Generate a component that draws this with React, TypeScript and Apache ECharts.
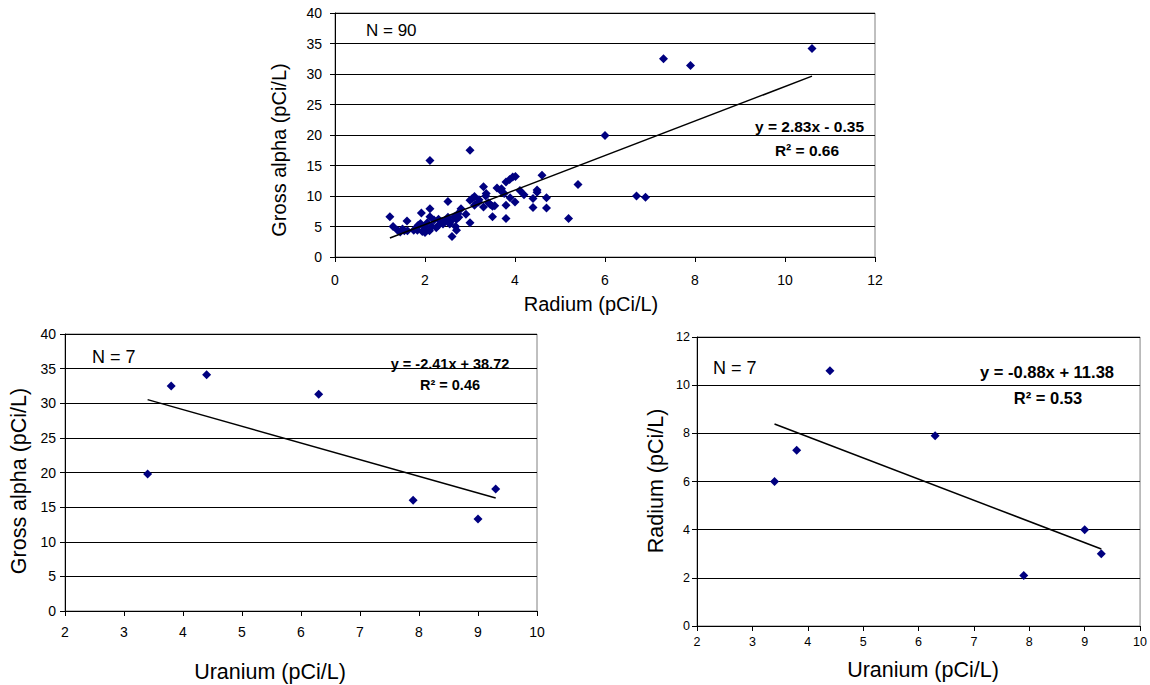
import React, { useEffect, useRef } from "react";
import * as echarts from "echarts";

// ---- Top chart: Radium vs Gross alpha (N = 90) ----
const radium = [
  1.22, 1.29, 1.39, 1.6, 1.54, 1.61, 1.82, 1.83, 1.9, 1.94,
  1.98, 1.92, 2.11, 2.11, 2.11, 3.0, 2.2, 2.3, 2.38, 2.51,
  2.51, 2.57, 2.6, 2.7, 2.7, 2.73, 2.8, 2.91, 3.0, 3.0,
  3.1, 3.1, 3.19, 3.3, 3.36, 3.3, 3.41, 3.5, 3.5, 3.6,
  3.68, 3.76, 3.8, 3.88, 3.95, 4.01, 3.8, 3.8, 3.89, 4.0,
  4.11, 4.2, 4.4, 4.4, 4.49, 4.49, 4.6, 4.7, 4.7, 5.19,
  5.4, 6.0, 6.7, 6.9, 7.3, 7.9, 10.6, 1.45, 1.5, 1.75,
  1.85, 2.0, 2.0, 2.05, 2.15, 2.25, 2.3, 2.4, 2.45, 2.55,
  2.65, 2.68, 2.75, 3.05, 3.2, 3.35, 3.45, 3.55, 3.7, 2.1,
];
const grossAlphaTop = [
  6.6, 5.0, 4.4, 5.9, 4.3, 4.3, 4.9, 4.4, 5.5, 4.2,
  4.5, 7.2, 7.9, 6.6, 15.8, 17.5, 6.05, 5.2, 5.8, 9.1,
  6.5, 5.8, 3.35, 4.4, 6.2, 7.1, 7.9, 7.0, 5.6, 9.3,
  9.9, 8.5, 9.0, 11.5, 10.4, 8.2, 8.9, 8.3, 6.6, 11.3,
  10.9, 10.4, 12.3, 12.7, 13.1, 13.2, 8.5, 6.3, 9.7, 9.0,
  10.9, 10.2, 9.6, 8.1, 11.0, 10.6, 13.4, 9.7, 8.05, 6.3,
  11.9, 19.9, 10.0, 9.8, 32.5, 31.4, 34.2, 4.1, 4.6, 4.4,
  5.2, 4.0, 4.9, 5.6, 5.0, 4.8, 6.2, 5.4, 6.0, 5.4,
  6.6, 5.0, 6.5, 9.6, 9.4, 10.0, 8.6, 8.4, 11.2, 4.3,
];
const topFit = { slope: 2.83, intercept: -0.35 };

// ---- Bottom charts: Uranium (N = 7) ----
const uranium = [3.4, 3.8, 4.4, 6.3, 7.9, 9.0, 9.3];
const grossAlphaU = [19.8, 32.5, 34.1, 31.3, 16.0, 13.3, 17.6];
const radiumU = [6.0, 7.3, 10.6, 7.9, 2.1, 4.0, 3.0];
const leftFit = { slope: -2.41, intercept: 38.72 };
const rightFit = { slope: -0.88, intercept: 11.38 };

const FONT = "Arial, 'Liberation Sans', sans-serif";
const NAVY = "#000080";

function pairs(xs: number[], ys: number[]) {
  return xs.map((x, i) => [x, ys[i]]);
}
function fitLine(xs: number[], fit: { slope: number; intercept: number }) {
  const lo = Math.min(...xs);
  const hi = Math.max(...xs);
  return [lo, hi].map((x) => [x, fit.slope * x + fit.intercept]);
}

function xAxisCfg(grid: number, min: number, max: number, interval: number, fs: number, margin: number) {
  return {
    type: "value" as const,
    gridIndex: grid,
    min,
    max,
    interval,
    axisLine: { show: true, onZero: false, lineStyle: { color: "#000", width: 1 } },
    axisTick: { show: true, length: 5, lineStyle: { color: "#000" } },
    axisLabel: { color: "#000", fontSize: fs, fontFamily: FONT, margin },
    splitLine: { show: false },
  };
}
function yAxisCfg(grid: number, min: number, max: number, interval: number, fs: number, margin: number) {
  return {
    type: "value" as const,
    gridIndex: grid,
    min,
    max,
    interval,
    axisLine: { show: true, onZero: false, lineStyle: { color: "#000", width: 1 } },
    axisTick: { show: true, length: 5, lineStyle: { color: "#000" } },
    axisLabel: { color: "#000", fontSize: fs, fontFamily: FONT, margin },
    splitLine: { show: true, lineStyle: { color: "#000", width: 1 } },
  };
}

function txt(text: string, x: number, y: number, fontSize: number, opts: any = {}) {
  return {
    type: "text",
    x,
    y,
    rotation: opts.rotation || 0,
    style: {
      text,
      fill: "#000",
      fontSize,
      fontFamily: FONT,
      fontWeight: opts.bold ? "bold" : "normal",
      align: opts.align || "center",
      verticalAlign: "middle",
    },
  };
}

export default function App() {
  const ref = useRef<HTMLDivElement>(null);
  useEffect(() => {
    if (!ref.current) return;
    const chart = echarts.init(ref.current, undefined, { renderer: "svg" });
    const scatterStyle = { color: NAVY, opacity: 1 };
    const lineStyle = { color: "#000", width: 1.5 };
    chart.setOption({
      animation: false,
      backgroundColor: "#fff",
      grid: [
        { left: 335, top: 13, width: 540, height: 244, show: true, borderColor: "#808080", borderWidth: 1 },
        { left: 65, top: 334, width: 472, height: 277, show: true, borderColor: "#808080", borderWidth: 1 },
        { left: 697, top: 337, width: 444, height: 289, show: true, borderColor: "#808080", borderWidth: 1 },
      ],
      xAxis: [
        xAxisCfg(0, 0, 12, 2, 14, 16),
        xAxisCfg(1, 2, 10, 1, 14, 14),
        xAxisCfg(2, 2, 10, 1, 12.5, 9),
      ],
      yAxis: [
        yAxisCfg(0, 0, 40, 5, 14, 13),
        yAxisCfg(1, 0, 40, 5, 14, 9),
        yAxisCfg(2, 0, 12, 2, 12.5, 7),
      ],
      series: [
        {
          type: "scatter",
          xAxisIndex: 0,
          yAxisIndex: 0,
          symbol: "diamond",
          symbolSize: 9,
          itemStyle: scatterStyle,
          data: pairs(radium, grossAlphaTop),
        },
        {
          type: "line",
          xAxisIndex: 0,
          yAxisIndex: 0,
          symbol: "none",
          lineStyle,
          data: fitLine(radium, topFit),
        },
        {
          type: "scatter",
          xAxisIndex: 1,
          yAxisIndex: 1,
          symbol: "diamond",
          symbolSize: 9,
          itemStyle: scatterStyle,
          data: pairs(uranium, grossAlphaU),
        },
        {
          type: "line",
          xAxisIndex: 1,
          yAxisIndex: 1,
          symbol: "none",
          lineStyle,
          data: fitLine(uranium, leftFit),
        },
        {
          type: "scatter",
          xAxisIndex: 2,
          yAxisIndex: 2,
          symbol: "diamond",
          symbolSize: 9,
          itemStyle: scatterStyle,
          data: pairs(uranium, radiumU),
        },
        {
          type: "line",
          xAxisIndex: 2,
          yAxisIndex: 2,
          symbol: "none",
          lineStyle,
          data: fitLine(uranium, rightFit),
        },
      ],
      graphic: [
        // Top chart
        txt("Radium (pCi/L)", 591, 304, 20),
        txt("Gross alpha (pCi/L)", 279, 150, 20, { rotation: Math.PI / 2 }),
        txt("N = 90", 366, 30, 17, { align: "left" }),
        txt("y = 2.83x - 0.35", 864, 126, 15.5, { bold: true, align: "right" }),
        txt("R² = 0.66", 807, 150, 15.5, { bold: true }),
        // Bottom-left chart
        txt("Uranium (pCi/L)", 270, 672, 21.5),
        txt("Gross alpha (pCi/L)", 19, 481, 21.5, { rotation: Math.PI / 2 }),
        txt("N = 7", 92, 357, 18, { align: "left" }),
        txt("y = -2.41x + 38.72", 450, 364, 14.5, { bold: true }),
        txt("R² = 0.46", 450, 385, 14.5, { bold: true }),
        // Bottom-right chart
        txt("Uranium (pCi/L)", 923, 670, 21.5),
        txt("Radium (pCi/L)", 656, 481, 21.5, { rotation: Math.PI / 2 }),
        txt("N = 7", 713, 368, 18, { align: "left" }),
        txt("y = -0.88x + 11.38", 1047, 372, 16.5, { bold: true }),
        txt("R² = 0.53", 1048, 398, 16.5, { bold: true }),
      ],
    });
    return () => chart.dispose();
  }, []);
  return (
    <div
      ref={ref}
      style={{ position: "fixed", left: 0, top: 0, width: 1150, height: 685, background: "#fff" }}
    />
  );
}
